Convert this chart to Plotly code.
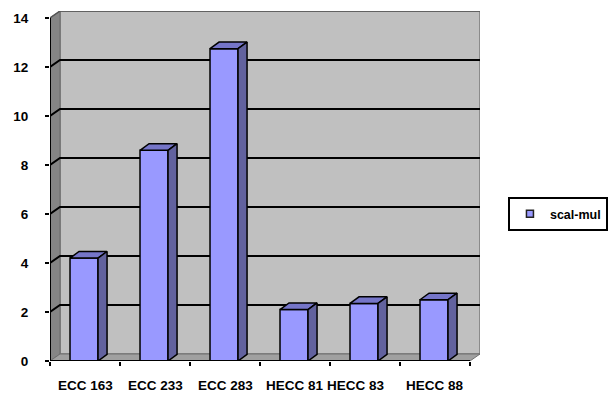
import plotly.graph_objects as go

# Scalar multiplication timings per curve
categories = ["ECC 163", "ECC 233", "ECC 283", "HECC 81", "HECC 83", "HECC 88"]
scal_mul = [4.2, 8.6, 12.75, 2.1, 2.35, 2.5]
y_ticks = [0, 2, 4, 6, 8, 10, 12, 14]
series_name = "scal-mul"

FONT = "Liberation Sans, Arial, sans-serif"
FRONT = "#9999FF"
TOP = "#7575C8"
SIDE = "#62629E"

n = len(categories)
ymax = y_ticks[-1]
# pseudo-3D depth of the chart box, in axis units
dx, dy = 0.143, 0.286
# depth of each column
bdx, bdy = 0.129, 0.27
bar_w = 0.4
bar_off = -0.214

x_lo, x_hi = -0.5, n - 0.5

shapes = []
# back wall
shapes.append(dict(type="rect", xref="x", yref="y", layer="below",
                   x0=x_lo + dx, x1=x_hi + dx, y0=dy, y1=ymax + dy,
                   fillcolor="#C0C0C0", line=dict(color="#7a7a7a", width=1.5)))
# side wall
shapes.append(dict(type="path", xref="x", yref="y", layer="below",
                   path=f"M{x_lo},0 L{x_lo},{ymax} L{x_lo + dx},{ymax + dy} L{x_lo + dx},{dy} Z",
                   fillcolor="#858585", line=dict(color="#6a6a6a", width=1)))
# floor
shapes.append(dict(type="path", xref="x", yref="y", layer="below",
                   path=f"M{x_lo},0 L{x_hi},0 L{x_hi + dx},{dy} L{x_lo + dx},{dy} Z",
                   fillcolor="#A0A0A0", line=dict(color="#707070", width=1)))
# gridlines across side wall and back wall
for v in y_ticks[1:-1]:
    shapes.append(dict(type="path", xref="x", yref="y", layer="below",
                       path=f"M{x_lo},{v} L{x_lo + dx},{v + dy} L{x_hi + dx},{v + dy}",
                       line=dict(color="black", width=2)))
# top edge of the box
shapes.append(dict(type="path", xref="x", yref="y", layer="below",
                   path=f"M{x_lo},{ymax} L{x_lo + dx},{ymax + dy} L{x_hi + dx},{ymax + dy}",
                   line=dict(color="#555555", width=1.5)))
# front axis lines
shapes.append(dict(type="line", xref="x", yref="y", layer="above",
                   x0=x_lo, x1=x_lo, y0=0, y1=ymax, line=dict(color="black", width=2)))
shapes.append(dict(type="line", xref="x", yref="y", layer="above",
                   x0=x_lo, x1=x_hi, y0=0, y1=0, line=dict(color="black", width=2)))

fig = go.Figure()

# front faces of the columns
fig.add_trace(go.Bar(x=list(range(n)), y=scal_mul, width=bar_w, offset=bar_off,
                     marker=dict(color=FRONT, line=dict(color="black", width=1.5)),
                     showlegend=False, hoverinfo="skip"))

# top and right faces of the columns
for i, v in enumerate(scal_mul):
    x0 = i + bar_off
    x1 = x0 + bar_w
    fig.add_trace(go.Scatter(
        x=[x0, x1, x1 + bdx, x0 + bdx, x0], y=[v, v, v + bdy, v + bdy, v],
        fill="toself", fillcolor=TOP, mode="lines",
        line=dict(color="black", width=1.5), showlegend=False, hoverinfo="skip"))
    fig.add_trace(go.Scatter(
        x=[x1, x1 + bdx, x1 + bdx, x1, x1], y=[0, bdy, v + bdy, v, 0],
        fill="toself", fillcolor=SIDE, mode="lines",
        line=dict(color="black", width=1.5), showlegend=False, hoverinfo="skip"))

# legend entry
fig.add_trace(go.Scatter(x=[None], y=[None], mode="markers", name=f"<b>{series_name}</b>",
                         marker=dict(symbol="square", size=7, color=FRONT,
                                     line=dict(color="#222222", width=1.5))))

# category labels
label_shift = {4: -9}
annotations = []
for i, c in enumerate(categories):
    annotations.append(dict(x=i, y=0, xref="x", yref="y", text=f"<b>{c}</b>",
                            showarrow=False, yanchor="top", yshift=-15,
                            xshift=label_shift.get(i, 0),
                            font=dict(family=FONT, size=13.5, color="black")))

fig.update_layout(
    width=616, height=401,
    margin=dict(l=50, r=136, t=11, b=40, autoexpand=False),
    paper_bgcolor="white", plot_bgcolor="white",
    shapes=shapes, annotations=annotations,
    showlegend=True,
    legend=dict(x=1.065, y=0.42, xanchor="left", yanchor="middle",
                bgcolor="white", bordercolor="black", borderwidth=2,
                font=dict(family=FONT, size=12.5, color="black"),
                itemwidth=30, tracegroupgap=0),
    xaxis=dict(range=[x_lo, x_hi + dx], showgrid=False, zeroline=False, showline=False,
               tickmode="array", tickvals=[x_lo + k for k in range(n + 1)],
               ticktext=["" for _ in range(n + 1)],
               ticks="outside", ticklen=4, tickwidth=2, tickcolor="black", fixedrange=True),
    yaxis=dict(range=[0, ymax + dy], showgrid=False, zeroline=False, showline=False,
               tickmode="array", tickvals=y_ticks,
               ticktext=[f"<b>{t}</b>" for t in y_ticks],
               ticks="outside", ticklen=4, tickwidth=2, tickcolor="black",
               ticklabelstandoff=14,
               tickfont=dict(family=FONT, size=13.5, color="black"), fixedrange=True),
    font=dict(family=FONT),
)

fig.write_html("out.html")
